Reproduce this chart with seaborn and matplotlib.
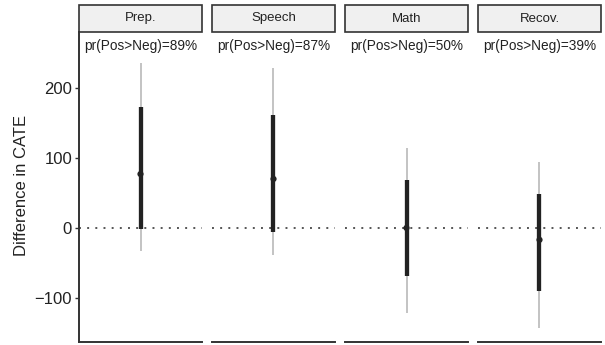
import matplotlib
matplotlib.use("Agg")
import matplotlib.pyplot as plt
import seaborn as sns
import pandas as pd
from matplotlib.patches import Rectangle

# Posterior summaries of the difference in CATE per outcome
outcomes = ["Prep.", "Speech", "Math", "Recov."]
medians = [77, 70, 0, -17]
inner_lo = [-1, -6, -68, -90]
inner_hi = [173, 161, 68, 49]
outer_lo = [-33, -39, -122, -143]
outer_hi = [236, 228, 114, 94]
prob_pos = [89, 87, 50, 39]

df = pd.DataFrame({
    "outcome": outcomes, "x": [0] * 4, "median": medians,
    "inner_lo": inner_lo, "inner_hi": inner_hi,
    "outer_lo": outer_lo, "outer_hi": outer_hi, "prob": prob_pos,
})
df["outcome"] = pd.Categorical(df["outcome"], categories=outcomes, ordered=True)

sns.set_theme(style="white")
plt.rcParams["font.family"] = ["Liberation Sans", "DejaVu Sans"]

g = sns.FacetGrid(df, col="outcome", col_order=outcomes, sharey=True,
                  height=3.45, aspect=0.4, despine=False)


def draw_interval(data, **kws):
    ax = plt.gca()
    ax.axhline(0, color="#555555", lw=1.4, ls=(0, (1, 3.2)), zorder=1)
    ax.vlines(data["x"], data["outer_lo"], data["outer_hi"],
              color="#b3b3b3", lw=1.1, zorder=2)
    ax.vlines(data["x"], data["inner_lo"], data["inner_hi"],
              color="#222222", lw=3.1, zorder=3)
    sns.scatterplot(data=data, x="x", y="median", ax=ax, color="#222222",
                    s=20, edgecolor="none", zorder=4, legend=False)
    p = int(data["prob"].iloc[0])
    ax.text(0.5, 0.955, f"pr(Pos>Neg)={p}%", transform=ax.transAxes,
            ha="center", va="center", fontsize=9.8, color="#222222")


g.map_dataframe(draw_interval)

fig = g.figure
fig.set_size_inches(6.05, 3.45)
fig.subplots_adjust(left=79 / 605, right=601 / 605, bottom=3 / 345,
                    top=313 / 345, wspace=10 / 123)

strip_h = 27 / 310
for ax, name in zip(g.axes.flat, outcomes):
    ax.set_xlim(-1, 1)
    ax.set_ylim(-163, 280)
    ax.set_title("")
    ax.set_xlabel("")
    ax.set_xticks([])
    for side in ["top", "right", "left"]:
        ax.spines[side].set_visible(False)
    ax.spines["bottom"].set_color("#333333")
    ax.spines["bottom"].set_linewidth(1.4)
    ax.add_patch(Rectangle((0, 1), 1, strip_h, transform=ax.transAxes,
                           facecolor="#f0f0f0", edgecolor="#333333",
                           lw=1.2, clip_on=False))
    ax.text(0.5, 1 + strip_h / 2, name, transform=ax.transAxes,
            ha="center", va="center", fontsize=9.5, color="#222222")

ax0 = g.axes.flat[0]
ax0.spines["left"].set_visible(True)
ax0.spines["left"].set_color("#333333")
ax0.spines["left"].set_linewidth(1.4)
ax0.set_yticks([-100, 0, 100, 200])
ax0.set_yticklabels(["\u2212100", "0", "100", "200"])
ax0.tick_params(axis="y", left=True, length=3, width=1, color="#333333",
                labelsize=12, labelcolor="#222222", pad=2)
ax0.set_ylabel("Difference in CATE", fontsize=12, color="#222222")
ax0.yaxis.set_label_coords(-0.41, 0.505)
for ax in g.axes.flat[1:]:
    ax.set_ylabel("")
    ax.tick_params(axis="y", left=False)

fig.savefig("out.png", dpi=100)
